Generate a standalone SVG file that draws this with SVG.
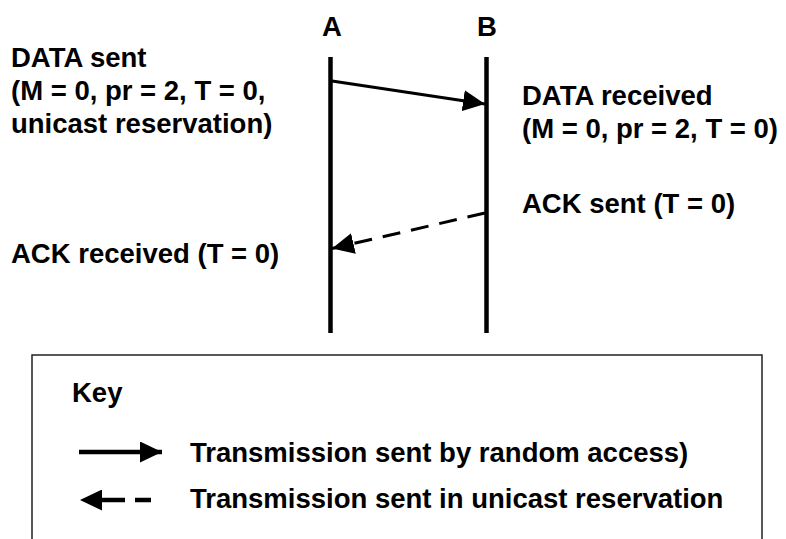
<svg xmlns="http://www.w3.org/2000/svg" width="786" height="539" viewBox="0 0 786 539">
<style>
text{font-family:"Liberation Sans",Arial,sans-serif;font-weight:bold;font-size:27.5px;fill:#000}
.life{stroke:#000;stroke-width:4.5;fill:none}
.msg{stroke:#000;stroke-width:3;fill:none}
.dash{stroke-dasharray:18 11}
.key{stroke:#000;stroke-width:4.5;fill:none}
</style>
<defs>
<marker id="ah" viewBox="0 0 22 21" refX="22" refY="10.5" markerWidth="22" markerHeight="21" markerUnits="userSpaceOnUse" orient="auto">
<path d="M0,0 L22,10.5 L0,21 Z" fill="#000"/>
</marker>
</defs>
<rect width="786" height="539" fill="#fff"/>
<g id="nodeA">
<text x="332" y="36" text-anchor="middle">A</text>
<line class="life" x1="330.5" y1="57" x2="330.5" y2="333"/>
</g>
<g id="nodeB">
<text x="487" y="36" text-anchor="middle">B</text>
<line class="life" x1="486.5" y1="57" x2="486.5" y2="333"/>
</g>
<g id="labels">
<text x="11" y="67">DATA sent</text>
<text x="11" y="100">(M = 0, pr = 2, T = 0,</text>
<text x="11" y="133">unicast reservation)</text>
<text x="11" y="263">ACK received (T = 0)</text>
<text x="522" y="105">DATA received</text>
<text x="522" y="138">(M = 0, pr = 2, T = 0)</text>
<text x="522" y="213">ACK sent (T = 0)</text>
</g>
<g id="connectors">
<line class="msg" x1="332" y1="81" x2="485" y2="104" marker-end="url(#ah)"/>
<line class="msg dash" x1="485" y1="213" x2="332" y2="248.5" marker-end="url(#ah)"/>
</g>
<g id="key">
<path d="M32,539 V355 H762 V539" fill="none" stroke="#222" stroke-width="1.5"/>
<text x="72" y="402">Key</text>
<line class="key" x1="79" y1="452" x2="162" y2="452" marker-end="url(#ah)"/>
<text x="190" y="462">Transmission sent by random access)</text>
<line class="key" x1="151" y1="500" x2="80" y2="500" stroke-dasharray="16 10 30 100" marker-end="url(#ah)"/>
<text x="190" y="508">Transmission sent in unicast reservation</text>
</g>
</svg>
